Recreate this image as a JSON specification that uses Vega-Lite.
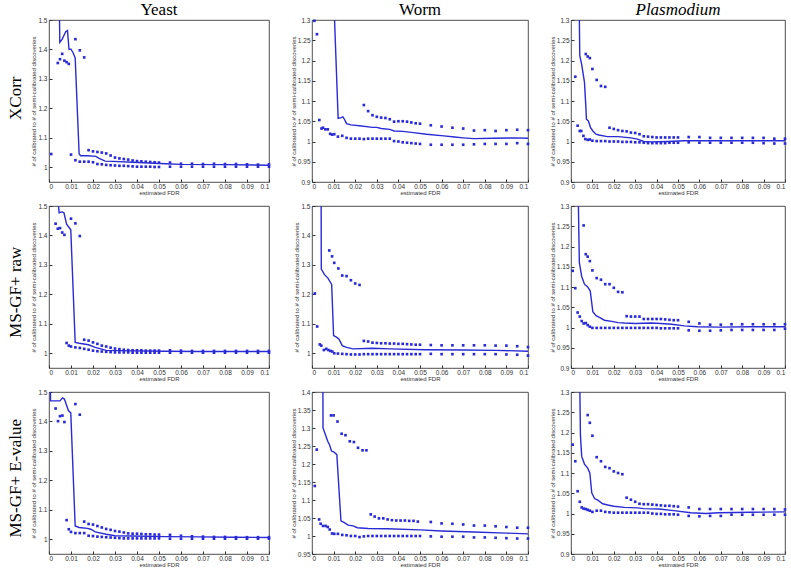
{
"$schema": "https://vega.github.io/schema/vega-lite/v6.json",
"padding": {"left": 6, "top": 0, "right": 2, "bottom": 0},
"background": "white",
"config": {
 "view": {"stroke": "#222", "strokeWidth": 0.8},
 "title": {"font": "Liberation Serif", "fontSize": 17, "fontWeight": "normal", "color": "black", "offset": -2},
 "axis": {"grid": false, "domain": false, "tickColor": "#333", "tickSize": -3, "labelFont": "Liberation Sans", "labelFontSize": 6.5, "labelColor": "#333", "titleFont": "Liberation Sans", "titleFontSize": 6, "titleFontWeight": "normal", "titleColor": "#333", "titlePadding": 0},
 "axisX": {"labelPadding": 4},
 "axisY": {"labelPadding": 5, "titlePadding": 1},
 "line": {"color": "#2a2ad6", "strokeWidth": 1.4},
 "point": {"color": "#2a2ad6"}
},
"datasets": {
 "yx": [
  {"s":"d","x":0.001,"y":1.045},{"s":"d","x":0.004,"y":1.354},{"s":"d","x":0.005,"y":1.367},{"s":"d","x":0.006,"y":1.385},{"s":"d","x":0.007,"y":1.362},{"s":"d","x":0.008,"y":1.357},{"s":"d","x":0.009,"y":1.351},{"s":"d","x":0.010,"y":1.043},{"s":"d","x":0.012,"y":1.435},{"s":"d","x":0.014,"y":1.397},{"s":"d","x":0.016,"y":1.373},{"s":"d","x":0.012,"y":1.024},{"s":"d","x":0.014,"y":1.019},{"s":"d","x":0.016,"y":1.019},
  {"s":"d","x":0.018,"y":1.058},{"s":"d","x":0.020,"y":1.054},{"s":"d","x":0.022,"y":1.052},{"s":"d","x":0.024,"y":1.05},{"s":"d","x":0.026,"y":1.047},{"s":"d","x":0.028,"y":1.04},{"s":"d","x":0.030,"y":1.033},{"s":"d","x":0.032,"y":1.03},{"s":"d","x":0.034,"y":1.028},{"s":"d","x":0.036,"y":1.026},{"s":"d","x":0.038,"y":1.023},{"s":"d","x":0.040,"y":1.021},{"s":"d","x":0.042,"y":1.02},{"s":"d","x":0.044,"y":1.019},{"s":"d","x":0.046,"y":1.018},{"s":"d","x":0.048,"y":1.017},{"s":"d","x":0.050,"y":1.016},
  {"s":"d","x":0.018,"y":1.019},{"s":"d","x":0.020,"y":1.017},{"s":"d","x":0.022,"y":1.011},{"s":"d","x":0.024,"y":1.01},{"s":"d","x":0.026,"y":1.008},{"s":"d","x":0.028,"y":1.007},{"s":"d","x":0.030,"y":1.006},{"s":"d","x":0.032,"y":1.005},{"s":"d","x":0.034,"y":1.005},{"s":"d","x":0.036,"y":1.004},{"s":"d","x":0.038,"y":1.003},{"s":"d","x":0.040,"y":1.002},{"s":"d","x":0.042,"y":1.002},{"s":"d","x":0.044,"y":1.002},{"s":"d","x":0.046,"y":1.002},{"s":"d","x":0.048,"y":1.001},{"s":"d","x":0.050,"y":1.001},
  {"s":"d","x":0.055,"y":1.016},{"s":"d","x":0.06,"y":1.012},{"s":"d","x":0.065,"y":1.012},{"s":"d","x":0.07,"y":1.011},{"s":"d","x":0.075,"y":1.012},{"s":"d","x":0.08,"y":1.011},{"s":"d","x":0.085,"y":1.011},{"s":"d","x":0.09,"y":1.01},{"s":"d","x":0.095,"y":1.009},{"s":"d","x":0.1,"y":1.01},
  {"s":"d","x":0.055,"y":1.002},{"s":"d","x":0.06,"y":1.002},{"s":"d","x":0.065,"y":1.002},{"s":"d","x":0.07,"y":1.002},{"s":"d","x":0.075,"y":1.002},{"s":"d","x":0.08,"y":1.002},{"s":"d","x":0.085,"y":1.002},{"s":"d","x":0.09,"y":1.002},{"s":"d","x":0.095,"y":1.002},{"s":"d","x":0.1,"y":1.002},
  {"s":"l","x":0.0045,"y":1.7},{"s":"l","x":0.0049,"y":1.424},{"s":"l","x":0.006,"y":1.435},{"s":"l","x":0.0076,"y":1.46},{"s":"l","x":0.0084,"y":1.464},{"s":"l","x":0.0091,"y":1.4},{"s":"l","x":0.01,"y":1.401},{"s":"l","x":0.011,"y":1.388},{"s":"l","x":0.0119,"y":1.371},{"s":"l","x":0.0137,"y":1.045},{"s":"l","x":0.0144,"y":1.039},{"s":"l","x":0.0175,"y":1.039},{"s":"l","x":0.0213,"y":1.037},{"s":"l","x":0.0228,"y":1.03},{"s":"l","x":0.0255,"y":1.021},{"s":"l","x":0.029,"y":1.02},{"s":"l","x":0.038,"y":1.017},{"s":"l","x":0.053,"y":1.012},{"s":"l","x":0.06,"y":1.01},{"s":"l","x":0.08,"y":1.009},{"s":"l","x":0.1,"y":1.007}
 ],
 "wx": [
  {"s":"d","x":0.0011,"y":1.298},{"s":"d","x":0.0023,"y":1.265},{"s":"d","x":0.0034,"y":1.053},{"s":"d","x":0.0044,"y":1.032},{"s":"d","x":0.0051,"y":1.034},{"s":"d","x":0.0062,"y":1.03},{"s":"d","x":0.0073,"y":1.03},{"s":"d","x":0.0084,"y":1.019},{"s":"d","x":0.0093,"y":1.017},{"s":"d","x":0.0103,"y":1.018},{"s":"d","x":0.012,"y":1.012},{"s":"d","x":0.014,"y":1.014},{"s":"d","x":0.016,"y":1.009},{"s":"d","x":0.018,"y":1.007},{"s":"d","x":0.02,"y":1.007},{"s":"d","x":0.022,"y":1.007},{"s":"d","x":0.024,"y":1.006},{"s":"d","x":0.026,"y":1.007},{"s":"d","x":0.028,"y":1.007},{"s":"d","x":0.03,"y":1.007},{"s":"d","x":0.032,"y":1.007},{"s":"d","x":0.034,"y":1.007},{"s":"d","x":0.036,"y":1.007},
  {"s":"d","x":0.024,"y":1.09},{"s":"d","x":0.026,"y":1.075},{"s":"d","x":0.028,"y":1.065},{"s":"d","x":0.03,"y":1.061},{"s":"d","x":0.032,"y":1.059},{"s":"d","x":0.034,"y":1.058},{"s":"d","x":0.036,"y":1.055},{"s":"d","x":0.038,"y":1.049},{"s":"d","x":0.04,"y":1.05},{"s":"d","x":0.042,"y":1.05},{"s":"d","x":0.044,"y":1.049},{"s":"d","x":0.046,"y":1.047},{"s":"d","x":0.048,"y":1.045},{"s":"d","x":0.05,"y":1.044},{"s":"d","x":0.055,"y":1.04},{"s":"d","x":0.06,"y":1.037},{"s":"d","x":0.065,"y":1.034},{"s":"d","x":0.07,"y":1.032},{"s":"d","x":0.075,"y":1.027},{"s":"d","x":0.08,"y":1.028},{"s":"d","x":0.085,"y":1.026},{"s":"d","x":0.09,"y":1.028},{"s":"d","x":0.095,"y":1.029},{"s":"d","x":0.1,"y":1.028},
  {"s":"d","x":0.038,"y":1.001},{"s":"d","x":0.04,"y":1.0},{"s":"d","x":0.042,"y":0.998},{"s":"d","x":0.044,"y":0.997},{"s":"d","x":0.046,"y":0.996},{"s":"d","x":0.048,"y":0.995},{"s":"d","x":0.05,"y":0.994},{"s":"d","x":0.055,"y":0.992},{"s":"d","x":0.06,"y":0.992},{"s":"d","x":0.065,"y":0.992},{"s":"d","x":0.07,"y":0.992},{"s":"d","x":0.075,"y":0.993},{"s":"d","x":0.08,"y":0.994},{"s":"d","x":0.085,"y":0.994},{"s":"d","x":0.09,"y":0.994},{"s":"d","x":0.095,"y":0.996},{"s":"d","x":0.1,"y":0.994},
  {"s":"l","x":0.0101,"y":1.35},{"s":"l","x":0.0121,"y":1.057},{"s":"l","x":0.0135,"y":1.059},{"s":"l","x":0.0143,"y":1.061},{"s":"l","x":0.015,"y":1.055},{"s":"l","x":0.016,"y":1.044},{"s":"l","x":0.018,"y":1.041},{"s":"l","x":0.022,"y":1.039},{"s":"l","x":0.028,"y":1.035},{"s":"l","x":0.03,"y":1.035},{"s":"l","x":0.032,"y":1.032},{"s":"l","x":0.036,"y":1.03},{"s":"l","x":0.038,"y":1.026},{"s":"l","x":0.042,"y":1.025},{"s":"l","x":0.047,"y":1.022},{"s":"l","x":0.053,"y":1.018},{"s":"l","x":0.061,"y":1.014},{"s":"l","x":0.066,"y":1.011},{"s":"l","x":0.07,"y":1.009},{"s":"l","x":0.075,"y":1.007},{"s":"l","x":0.084,"y":1.008},{"s":"l","x":0.094,"y":1.009},{"s":"l","x":0.1,"y":1.008}
 ],
 "px": [
  {"s":"d","x":0.002,"y":1.16},{"s":"d","x":0.0031,"y":1.039},{"s":"d","x":0.0041,"y":1.026},{"s":"d","x":0.0048,"y":1.026},{"s":"d","x":0.0058,"y":1.014},{"s":"d","x":0.0067,"y":1.006},{"s":"d","x":0.0078,"y":1.004},{"s":"d","x":0.0088,"y":1.005},{"s":"d","x":0.0069,"y":1.216},{"s":"d","x":0.0078,"y":1.21},{"s":"d","x":0.0088,"y":1.206},{"s":"d","x":0.01,"y":1.179},{"s":"d","x":0.012,"y":1.152},{"s":"d","x":0.014,"y":1.137},{"s":"d","x":0.016,"y":1.135},
  {"s":"d","x":0.01,"y":1.002},{"s":"d","x":0.012,"y":1.001},{"s":"d","x":0.014,"y":1.001},{"s":"d","x":0.016,"y":1.001},{"s":"d","x":0.018,"y":1.0},{"s":"d","x":0.02,"y":1.0},{"s":"d","x":0.022,"y":1.0},{"s":"d","x":0.024,"y":0.999},{"s":"d","x":0.026,"y":0.999},{"s":"d","x":0.028,"y":0.999},{"s":"d","x":0.03,"y":0.998},{"s":"d","x":0.032,"y":0.998},{"s":"d","x":0.034,"y":0.997},{"s":"d","x":0.036,"y":0.996},{"s":"d","x":0.038,"y":0.996},{"s":"d","x":0.04,"y":0.996},{"s":"d","x":0.042,"y":0.996},{"s":"d","x":0.044,"y":0.996},{"s":"d","x":0.046,"y":0.997},{"s":"d","x":0.048,"y":0.997},{"s":"d","x":0.05,"y":0.997},
  {"s":"d","x":0.055,"y":0.998},{"s":"d","x":0.06,"y":0.997},{"s":"d","x":0.065,"y":0.997},{"s":"d","x":0.07,"y":0.997},{"s":"d","x":0.075,"y":0.997},{"s":"d","x":0.08,"y":0.997},{"s":"d","x":0.085,"y":0.997},{"s":"d","x":0.09,"y":0.996},{"s":"d","x":0.095,"y":0.995},{"s":"d","x":0.1,"y":0.995},
  {"s":"d","x":0.018,"y":1.034},{"s":"d","x":0.02,"y":1.031},{"s":"d","x":0.022,"y":1.028},{"s":"d","x":0.024,"y":1.026},{"s":"d","x":0.026,"y":1.025},{"s":"d","x":0.028,"y":1.022},{"s":"d","x":0.03,"y":1.021},{"s":"d","x":0.032,"y":1.018},{"s":"d","x":0.034,"y":1.013},{"s":"d","x":0.036,"y":1.012},{"s":"d","x":0.038,"y":1.011},{"s":"d","x":0.04,"y":1.01},{"s":"d","x":0.042,"y":1.01},{"s":"d","x":0.044,"y":1.01},{"s":"d","x":0.046,"y":1.01},{"s":"d","x":0.048,"y":1.01},{"s":"d","x":0.05,"y":1.01},
  {"s":"d","x":0.055,"y":1.011},{"s":"d","x":0.06,"y":1.011},{"s":"d","x":0.065,"y":1.009},{"s":"d","x":0.07,"y":1.009},{"s":"d","x":0.075,"y":1.009},{"s":"d","x":0.08,"y":1.009},{"s":"d","x":0.085,"y":1.009},{"s":"d","x":0.09,"y":1.009},{"s":"d","x":0.095,"y":1.007},{"s":"d","x":0.1,"y":1.007},
  {"s":"l","x":0.0037,"y":1.4},{"s":"l","x":0.0041,"y":1.212},{"s":"l","x":0.005,"y":1.19},{"s":"l","x":0.0063,"y":1.146},{"s":"l","x":0.007,"y":1.08},{"s":"l","x":0.0072,"y":1.055},{"s":"l","x":0.0081,"y":1.051},{"s":"l","x":0.0091,"y":1.035},{"s":"l","x":0.0102,"y":1.026},{"s":"l","x":0.0117,"y":1.018},{"s":"l","x":0.013,"y":1.016},{"s":"l","x":0.017,"y":1.012},{"s":"l","x":0.022,"y":1.012},{"s":"l","x":0.028,"y":1.009},{"s":"l","x":0.031,"y":1.006},{"s":"l","x":0.034,"y":1.0},{"s":"l","x":0.0375,"y":0.999},{"s":"l","x":0.045,"y":1.0},{"s":"l","x":0.053,"y":1.002},{"s":"l","x":0.069,"y":1.002},{"s":"l","x":0.084,"y":1.002},{"s":"l","x":0.1,"y":1.002}
 ],
 "yr": [
  {"s":"d","x":0.003,"y":1.44},{"s":"d","x":0.004,"y":1.423},{"s":"d","x":0.005,"y":1.425},{"s":"d","x":0.006,"y":1.41},{"s":"d","x":0.007,"y":1.402},{"s":"d","x":0.01,"y":1.457},{"s":"d","x":0.012,"y":1.441},{"s":"d","x":0.014,"y":1.398},
  {"s":"d","x":0.008,"y":1.035},{"s":"d","x":0.009,"y":1.026},{"s":"d","x":0.01,"y":1.023},{"s":"d","x":0.012,"y":1.02},{"s":"d","x":0.014,"y":1.018},{"s":"d","x":0.016,"y":1.015},{"s":"d","x":0.018,"y":1.012},{"s":"d","x":0.02,"y":1.009},{"s":"d","x":0.022,"y":1.007},{"s":"d","x":0.024,"y":1.006},{"s":"d","x":0.026,"y":1.005},{"s":"d","x":0.028,"y":1.004},{"s":"d","x":0.03,"y":1.003},{"s":"d","x":0.032,"y":1.003},{"s":"d","x":0.034,"y":1.003},{"s":"d","x":0.036,"y":1.003},{"s":"d","x":0.038,"y":1.002},{"s":"d","x":0.04,"y":1.002},{"s":"d","x":0.042,"y":1.002},{"s":"d","x":0.044,"y":1.002},{"s":"d","x":0.046,"y":1.002},{"s":"d","x":0.048,"y":1.002},{"s":"d","x":0.05,"y":1.002},
  {"s":"d","x":0.055,"y":1.002},{"s":"d","x":0.06,"y":1.002},{"s":"d","x":0.065,"y":1.002},{"s":"d","x":0.07,"y":1.002},{"s":"d","x":0.075,"y":1.002},{"s":"d","x":0.08,"y":1.002},{"s":"d","x":0.085,"y":1.002},{"s":"d","x":0.09,"y":1.002},{"s":"d","x":0.095,"y":1.002},{"s":"d","x":0.1,"y":1.002},
  {"s":"d","x":0.016,"y":1.046},{"s":"d","x":0.018,"y":1.043},{"s":"d","x":0.02,"y":1.037},{"s":"d","x":0.022,"y":1.032},{"s":"d","x":0.024,"y":1.026},{"s":"d","x":0.026,"y":1.023},{"s":"d","x":0.028,"y":1.019},{"s":"d","x":0.03,"y":1.016},{"s":"d","x":0.032,"y":1.014},{"s":"d","x":0.034,"y":1.012},{"s":"d","x":0.036,"y":1.011},{"s":"d","x":0.038,"y":1.01},{"s":"d","x":0.04,"y":1.01},{"s":"d","x":0.042,"y":1.01},{"s":"d","x":0.044,"y":1.009},{"s":"d","x":0.046,"y":1.009},{"s":"d","x":0.048,"y":1.009},{"s":"d","x":0.05,"y":1.009},
  {"s":"d","x":0.055,"y":1.01},{"s":"d","x":0.06,"y":1.009},{"s":"d","x":0.065,"y":1.008},{"s":"d","x":0.07,"y":1.008},{"s":"d","x":0.075,"y":1.008},{"s":"d","x":0.08,"y":1.008},{"s":"d","x":0.085,"y":1.008},{"s":"d","x":0.09,"y":1.008},{"s":"d","x":0.095,"y":1.008},{"s":"d","x":0.1,"y":1.008},
  {"s":"l","x":0.0036,"y":1.56},{"s":"l","x":0.0046,"y":1.477},{"s":"l","x":0.006,"y":1.48},{"s":"l","x":0.0068,"y":1.477},{"s":"l","x":0.008,"y":1.438},{"s":"l","x":0.0091,"y":1.427},{"s":"l","x":0.0099,"y":1.419},{"s":"l","x":0.0119,"y":1.037},{"s":"l","x":0.0137,"y":1.034},{"s":"l","x":0.018,"y":1.029},{"s":"l","x":0.021,"y":1.02},{"s":"l","x":0.026,"y":1.01},{"s":"l","x":0.038,"y":1.008},{"s":"l","x":0.053,"y":1.007},{"s":"l","x":0.068,"y":1.006},{"s":"l","x":0.1,"y":1.006}
 ],
 "wr": [
  {"s":"d","x":0.0013,"y":1.203},{"s":"d","x":0.0024,"y":1.091},{"s":"d","x":0.0036,"y":1.03},{"s":"d","x":0.0043,"y":1.026},{"s":"d","x":0.0055,"y":1.011},{"s":"d","x":0.0066,"y":1.015},{"s":"d","x":0.0076,"y":1.011},{"s":"d","x":0.0085,"y":1.008},{"s":"d","x":0.0094,"y":1.006},{"s":"d","x":0.0103,"y":1.0},
  {"s":"d","x":0.012,"y":0.999},{"s":"d","x":0.014,"y":0.998},{"s":"d","x":0.016,"y":0.997},{"s":"d","x":0.018,"y":0.996},{"s":"d","x":0.02,"y":0.996},{"s":"d","x":0.022,"y":0.996},{"s":"d","x":0.024,"y":0.997},{"s":"d","x":0.026,"y":0.997},{"s":"d","x":0.028,"y":0.997},{"s":"d","x":0.03,"y":0.997},{"s":"d","x":0.032,"y":0.997},{"s":"d","x":0.034,"y":0.997},{"s":"d","x":0.036,"y":0.997},{"s":"d","x":0.038,"y":0.997},{"s":"d","x":0.04,"y":0.997},{"s":"d","x":0.042,"y":0.997},{"s":"d","x":0.044,"y":0.997},{"s":"d","x":0.046,"y":0.997},{"s":"d","x":0.048,"y":0.997},{"s":"d","x":0.05,"y":0.997},
  {"s":"d","x":0.055,"y":0.998},{"s":"d","x":0.06,"y":0.997},{"s":"d","x":0.065,"y":0.997},{"s":"d","x":0.07,"y":0.997},{"s":"d","x":0.075,"y":0.997},{"s":"d","x":0.08,"y":0.997},{"s":"d","x":0.085,"y":0.997},{"s":"d","x":0.09,"y":0.996},{"s":"d","x":0.095,"y":0.995},{"s":"d","x":0.1,"y":0.992},
  {"s":"d","x":0.008,"y":1.349},{"s":"d","x":0.0093,"y":1.329},{"s":"d","x":0.0103,"y":1.307},{"s":"d","x":0.0122,"y":1.288},{"s":"d","x":0.014,"y":1.264},{"s":"d","x":0.016,"y":1.262},{"s":"d","x":0.018,"y":1.248},{"s":"d","x":0.02,"y":1.237},{"s":"d","x":0.022,"y":1.232},
  {"s":"d","x":0.024,"y":1.042},{"s":"d","x":0.026,"y":1.04},{"s":"d","x":0.028,"y":1.036},{"s":"d","x":0.03,"y":1.035},{"s":"d","x":0.032,"y":1.034},{"s":"d","x":0.034,"y":1.034},{"s":"d","x":0.036,"y":1.033},{"s":"d","x":0.038,"y":1.033},{"s":"d","x":0.04,"y":1.032},{"s":"d","x":0.042,"y":1.032},{"s":"d","x":0.044,"y":1.031},{"s":"d","x":0.046,"y":1.03},{"s":"d","x":0.048,"y":1.029},{"s":"d","x":0.05,"y":1.029},{"s":"d","x":0.055,"y":1.028},{"s":"d","x":0.06,"y":1.027},{"s":"d","x":0.065,"y":1.027},{"s":"d","x":0.07,"y":1.027},{"s":"d","x":0.075,"y":1.027},{"s":"d","x":0.08,"y":1.027},{"s":"d","x":0.085,"y":1.026},{"s":"d","x":0.09,"y":1.026},{"s":"d","x":0.095,"y":1.024},{"s":"d","x":0.1,"y":1.021},
  {"s":"l","x":0.0042,"y":1.6},{"s":"l","x":0.0043,"y":1.286},{"s":"l","x":0.0058,"y":1.267},{"s":"l","x":0.0073,"y":1.256},{"s":"l","x":0.0091,"y":1.234},{"s":"l","x":0.01,"y":1.06},{"s":"l","x":0.0115,"y":1.054},{"s":"l","x":0.0125,"y":1.048},{"s":"l","x":0.014,"y":1.026},{"s":"l","x":0.016,"y":1.02},{"s":"l","x":0.019,"y":1.015},{"s":"l","x":0.028,"y":1.017},{"s":"l","x":0.036,"y":1.015},{"s":"l","x":0.052,"y":1.012},{"s":"l","x":0.07,"y":1.011},{"s":"l","x":0.085,"y":1.01},{"s":"l","x":0.1,"y":1.007}
 ],
 "pr": [
  {"s":"d","x":0.0008,"y":1.14},{"s":"d","x":0.002,"y":1.097},{"s":"d","x":0.0031,"y":1.037},{"s":"d","x":0.0041,"y":1.027},{"s":"d","x":0.005,"y":1.016},{"s":"d","x":0.0059,"y":1.01},{"s":"d","x":0.0069,"y":1.011},{"s":"d","x":0.0078,"y":1.006},{"s":"d","x":0.0088,"y":1.002},
  {"s":"d","x":0.01,"y":0.999},{"s":"d","x":0.012,"y":0.999},{"s":"d","x":0.014,"y":0.999},{"s":"d","x":0.016,"y":0.999},{"s":"d","x":0.018,"y":0.999},{"s":"d","x":0.02,"y":0.999},{"s":"d","x":0.022,"y":0.999},{"s":"d","x":0.024,"y":0.999},{"s":"d","x":0.026,"y":0.999},{"s":"d","x":0.028,"y":0.999},{"s":"d","x":0.03,"y":0.999},{"s":"d","x":0.032,"y":0.999},{"s":"d","x":0.034,"y":0.999},{"s":"d","x":0.036,"y":0.999},{"s":"d","x":0.038,"y":0.999},{"s":"d","x":0.04,"y":0.999},{"s":"d","x":0.042,"y":0.998},{"s":"d","x":0.044,"y":0.998},{"s":"d","x":0.046,"y":0.998},{"s":"d","x":0.048,"y":0.998},{"s":"d","x":0.05,"y":0.998},
  {"s":"d","x":0.055,"y":0.993},{"s":"d","x":0.06,"y":0.992},{"s":"d","x":0.065,"y":0.992},{"s":"d","x":0.07,"y":0.993},{"s":"d","x":0.075,"y":0.994},{"s":"d","x":0.08,"y":0.994},{"s":"d","x":0.085,"y":0.994},{"s":"d","x":0.09,"y":0.994},{"s":"d","x":0.095,"y":0.994},{"s":"d","x":0.1,"y":0.997},
  {"s":"d","x":0.0059,"y":1.252},{"s":"d","x":0.0069,"y":1.181},{"s":"d","x":0.0078,"y":1.175},{"s":"d","x":0.0088,"y":1.164},{"s":"d","x":0.01,"y":1.141},{"s":"d","x":0.012,"y":1.122},{"s":"d","x":0.014,"y":1.118},{"s":"d","x":0.016,"y":1.107},{"s":"d","x":0.018,"y":1.107},{"s":"d","x":0.02,"y":1.098},{"s":"d","x":0.022,"y":1.088},{"s":"d","x":0.024,"y":1.087},
  {"s":"d","x":0.026,"y":1.028},{"s":"d","x":0.028,"y":1.027},{"s":"d","x":0.03,"y":1.027},{"s":"d","x":0.032,"y":1.027},{"s":"d","x":0.034,"y":1.021},{"s":"d","x":0.036,"y":1.021},{"s":"d","x":0.038,"y":1.021},{"s":"d","x":0.04,"y":1.021},{"s":"d","x":0.042,"y":1.021},{"s":"d","x":0.044,"y":1.02},{"s":"d","x":0.046,"y":1.019},{"s":"d","x":0.048,"y":1.018},{"s":"d","x":0.05,"y":1.018},{"s":"d","x":0.055,"y":1.014},{"s":"d","x":0.06,"y":1.01},{"s":"d","x":0.065,"y":1.007},{"s":"d","x":0.07,"y":1.007},{"s":"d","x":0.075,"y":1.008},{"s":"d","x":0.08,"y":1.008},{"s":"d","x":0.085,"y":1.008},{"s":"d","x":0.09,"y":1.008},{"s":"d","x":0.095,"y":1.008},{"s":"d","x":0.1,"y":1.008},
  {"s":"l","x":0.003,"y":1.45},{"s":"l","x":0.0039,"y":1.16},{"s":"l","x":0.005,"y":1.126},{"s":"l","x":0.0063,"y":1.107},{"s":"l","x":0.0078,"y":1.1},{"s":"l","x":0.009,"y":1.09},{"s":"l","x":0.0102,"y":1.039},{"s":"l","x":0.0117,"y":1.029},{"s":"l","x":0.0133,"y":1.025},{"s":"l","x":0.0156,"y":1.018},{"s":"l","x":0.019,"y":1.015},{"s":"l","x":0.022,"y":1.012},{"s":"l","x":0.025,"y":1.011},{"s":"l","x":0.03,"y":1.01},{"s":"l","x":0.0375,"y":1.011},{"s":"l","x":0.042,"y":1.01},{"s":"l","x":0.047,"y":1.008},{"s":"l","x":0.053,"y":1.004},{"s":"l","x":0.059,"y":1.002},{"s":"l","x":0.069,"y":1.001},{"s":"l","x":0.084,"y":1.002},{"s":"l","x":0.1,"y":1.002}
 ],
 "ye": [
  {"s":"d","x":0.003,"y":1.444},{"s":"d","x":0.0041,"y":1.401},{"s":"d","x":0.005,"y":1.418},{"s":"d","x":0.0061,"y":1.42},{"s":"d","x":0.007,"y":1.398},{"s":"d","x":0.012,"y":1.459},{"s":"d","x":0.014,"y":1.423},
  {"s":"d","x":0.008,"y":1.065},{"s":"d","x":0.009,"y":1.034},{"s":"d","x":0.01,"y":1.025},{"s":"d","x":0.012,"y":1.021},{"s":"d","x":0.014,"y":1.021},{"s":"d","x":0.016,"y":1.021},
  {"s":"d","x":0.018,"y":1.012},{"s":"d","x":0.02,"y":1.011},{"s":"d","x":0.022,"y":1.009},{"s":"d","x":0.024,"y":1.008},{"s":"d","x":0.026,"y":1.007},{"s":"d","x":0.028,"y":1.006},{"s":"d","x":0.03,"y":1.005},{"s":"d","x":0.032,"y":1.004},{"s":"d","x":0.034,"y":1.003},{"s":"d","x":0.036,"y":1.003},{"s":"d","x":0.038,"y":1.003},{"s":"d","x":0.04,"y":1.003},{"s":"d","x":0.042,"y":1.003},{"s":"d","x":0.044,"y":1.003},{"s":"d","x":0.046,"y":1.003},{"s":"d","x":0.048,"y":1.003},{"s":"d","x":0.05,"y":1.003},
  {"s":"d","x":0.055,"y":1.002},{"s":"d","x":0.06,"y":1.002},{"s":"d","x":0.065,"y":1.002},{"s":"d","x":0.07,"y":1.002},{"s":"d","x":0.075,"y":1.002},{"s":"d","x":0.08,"y":1.002},{"s":"d","x":0.085,"y":1.002},{"s":"d","x":0.09,"y":1.002},{"s":"d","x":0.095,"y":1.002},{"s":"d","x":0.1,"y":1.002},
  {"s":"d","x":0.016,"y":1.06},{"s":"d","x":0.018,"y":1.052},{"s":"d","x":0.02,"y":1.05},{"s":"d","x":0.022,"y":1.045},{"s":"d","x":0.024,"y":1.04},{"s":"d","x":0.026,"y":1.035},{"s":"d","x":0.028,"y":1.032},{"s":"d","x":0.03,"y":1.028},{"s":"d","x":0.032,"y":1.026},{"s":"d","x":0.034,"y":1.023},{"s":"d","x":0.036,"y":1.02},{"s":"d","x":0.038,"y":1.019},{"s":"d","x":0.04,"y":1.019},{"s":"d","x":0.042,"y":1.018},{"s":"d","x":0.044,"y":1.017},{"s":"d","x":0.046,"y":1.017},{"s":"d","x":0.048,"y":1.016},{"s":"d","x":0.05,"y":1.016},
  {"s":"d","x":0.055,"y":1.015},{"s":"d","x":0.06,"y":1.012},{"s":"d","x":0.065,"y":1.01},{"s":"d","x":0.07,"y":1.009},{"s":"d","x":0.075,"y":1.008},{"s":"d","x":0.08,"y":1.008},{"s":"d","x":0.085,"y":1.007},{"s":"d","x":0.09,"y":1.007},{"s":"d","x":0.095,"y":1.007},{"s":"d","x":0.1,"y":1.007},
  {"s":"l","x":0.0005,"y":1.6},{"s":"l","x":0.0007,"y":1.47},{"s":"l","x":0.005,"y":1.47},{"s":"l","x":0.0061,"y":1.48},{"s":"l","x":0.007,"y":1.476},{"s":"l","x":0.0079,"y":1.457},{"s":"l","x":0.0088,"y":1.437},{"s":"l","x":0.0099,"y":1.429},{"s":"l","x":0.0119,"y":1.045},{"s":"l","x":0.0137,"y":1.04},{"s":"l","x":0.0175,"y":1.037},{"s":"l","x":0.019,"y":1.034},{"s":"l","x":0.021,"y":1.025},{"s":"l","x":0.026,"y":1.017},{"s":"l","x":0.03,"y":1.012},{"s":"l","x":0.038,"y":1.011},{"s":"l","x":0.053,"y":1.009},{"s":"l","x":0.068,"y":1.008},{"s":"l","x":0.084,"y":1.007},{"s":"l","x":0.1,"y":1.006}
 ],
 "we": [
  {"s":"d","x":0.0013,"y":1.139},{"s":"d","x":0.0022,"y":1.24},{"s":"d","x":0.0033,"y":1.046},{"s":"d","x":0.004,"y":1.034},{"s":"d","x":0.0051,"y":1.028},{"s":"d","x":0.0063,"y":1.028},{"s":"d","x":0.0073,"y":1.025},{"s":"d","x":0.0082,"y":1.018},{"s":"d","x":0.0093,"y":1.007},{"s":"d","x":0.0103,"y":1.006},
  {"s":"d","x":0.012,"y":1.006},{"s":"d","x":0.014,"y":1.003},{"s":"d","x":0.016,"y":1.002},{"s":"d","x":0.018,"y":1.0},{"s":"d","x":0.02,"y":1.0},{"s":"d","x":0.022,"y":0.997},{"s":"d","x":0.024,"y":0.999},{"s":"d","x":0.026,"y":1.0},{"s":"d","x":0.028,"y":1.0},{"s":"d","x":0.03,"y":1.0},{"s":"d","x":0.032,"y":1.0},{"s":"d","x":0.034,"y":1.0},{"s":"d","x":0.036,"y":1.0},{"s":"d","x":0.038,"y":1.0},{"s":"d","x":0.04,"y":1.0},{"s":"d","x":0.042,"y":1.0},{"s":"d","x":0.044,"y":1.0},{"s":"d","x":0.046,"y":1.0},{"s":"d","x":0.048,"y":1.0},{"s":"d","x":0.05,"y":1.0},
  {"s":"d","x":0.055,"y":0.999},{"s":"d","x":0.06,"y":0.998},{"s":"d","x":0.065,"y":0.998},{"s":"d","x":0.07,"y":0.998},{"s":"d","x":0.075,"y":0.996},{"s":"d","x":0.08,"y":0.996},{"s":"d","x":0.085,"y":0.995},{"s":"d","x":0.09,"y":0.994},{"s":"d","x":0.095,"y":0.993},{"s":"d","x":0.1,"y":0.993},
  {"s":"d","x":0.0088,"y":1.335},{"s":"d","x":0.01,"y":1.335},{"s":"d","x":0.0118,"y":1.318},{"s":"d","x":0.0137,"y":1.284},{"s":"d","x":0.0155,"y":1.28},{"s":"d","x":0.0175,"y":1.263},{"s":"d","x":0.0194,"y":1.261},{"s":"d","x":0.0213,"y":1.245},{"s":"d","x":0.0234,"y":1.238},{"s":"d","x":0.0252,"y":1.238},
  {"s":"d","x":0.0272,"y":1.06},{"s":"d","x":0.029,"y":1.054},{"s":"d","x":0.031,"y":1.049},{"s":"d","x":0.033,"y":1.049},{"s":"d","x":0.035,"y":1.046},{"s":"d","x":0.037,"y":1.044},{"s":"d","x":0.039,"y":1.043},{"s":"d","x":0.041,"y":1.043},{"s":"d","x":0.043,"y":1.043},{"s":"d","x":0.045,"y":1.042},{"s":"d","x":0.047,"y":1.042},{"s":"d","x":0.049,"y":1.04},{"s":"d","x":0.055,"y":1.039},{"s":"d","x":0.06,"y":1.035},{"s":"d","x":0.065,"y":1.034},{"s":"d","x":0.07,"y":1.032},{"s":"d","x":0.075,"y":1.029},{"s":"d","x":0.08,"y":1.029},{"s":"d","x":0.085,"y":1.027},{"s":"d","x":0.09,"y":1.025},{"s":"d","x":0.095,"y":1.023},{"s":"d","x":0.1,"y":1.023},
  {"s":"l","x":0.005,"y":1.5},{"s":"l","x":0.0051,"y":1.3},{"s":"l","x":0.0063,"y":1.28},{"s":"l","x":0.0073,"y":1.263},{"s":"l","x":0.0082,"y":1.252},{"s":"l","x":0.009,"y":1.236},{"s":"l","x":0.01,"y":1.234},{"s":"l","x":0.0115,"y":1.226},{"s":"l","x":0.0134,"y":1.042},{"s":"l","x":0.015,"y":1.037},{"s":"l","x":0.0167,"y":1.03},{"s":"l","x":0.019,"y":1.028},{"s":"l","x":0.021,"y":1.023},{"s":"l","x":0.026,"y":1.021},{"s":"l","x":0.035,"y":1.02},{"s":"l","x":0.05,"y":1.017},{"s":"l","x":0.06,"y":1.014},{"s":"l","x":0.075,"y":1.011},{"s":"l","x":0.09,"y":1.008},{"s":"l","x":0.1,"y":1.006}
 ],
 "pe": [
  {"s":"d","x":0.0008,"y":1.17},{"s":"d","x":0.002,"y":1.129},{"s":"d","x":0.0031,"y":1.055},{"s":"d","x":0.0041,"y":1.029},{"s":"d","x":0.005,"y":1.015},{"s":"d","x":0.0059,"y":1.012},{"s":"d","x":0.0069,"y":1.011},{"s":"d","x":0.0078,"y":1.009},{"s":"d","x":0.0088,"y":1.007},{"s":"d","x":0.01,"y":1.004},
  {"s":"d","x":0.012,"y":1.007},{"s":"d","x":0.014,"y":1.007},{"s":"d","x":0.016,"y":1.004},{"s":"d","x":0.018,"y":1.003},{"s":"d","x":0.02,"y":1.002},{"s":"d","x":0.022,"y":1.002},{"s":"d","x":0.024,"y":1.002},{"s":"d","x":0.026,"y":1.002},{"s":"d","x":0.028,"y":1.002},{"s":"d","x":0.03,"y":1.002},{"s":"d","x":0.032,"y":1.002},{"s":"d","x":0.034,"y":1.002},{"s":"d","x":0.036,"y":1.002},{"s":"d","x":0.038,"y":1.0},{"s":"d","x":0.04,"y":0.999},{"s":"d","x":0.042,"y":0.999},{"s":"d","x":0.044,"y":0.998},{"s":"d","x":0.046,"y":0.998},{"s":"d","x":0.048,"y":0.998},{"s":"d","x":0.05,"y":0.997},
  {"s":"d","x":0.055,"y":0.994},{"s":"d","x":0.06,"y":0.993},{"s":"d","x":0.065,"y":0.994},{"s":"d","x":0.07,"y":0.994},{"s":"d","x":0.075,"y":0.997},{"s":"d","x":0.08,"y":0.997},{"s":"d","x":0.085,"y":0.997},{"s":"d","x":0.09,"y":0.997},{"s":"d","x":0.095,"y":0.997},{"s":"d","x":0.1,"y":0.997},
  {"s":"d","x":0.0078,"y":1.243},{"s":"d","x":0.0088,"y":1.224},{"s":"d","x":0.01,"y":1.192},{"s":"d","x":0.012,"y":1.139},{"s":"d","x":0.014,"y":1.129},{"s":"d","x":0.016,"y":1.115},{"s":"d","x":0.018,"y":1.112},{"s":"d","x":0.02,"y":1.104},{"s":"d","x":0.022,"y":1.1},{"s":"d","x":0.024,"y":1.097},
  {"s":"d","x":0.026,"y":1.039},{"s":"d","x":0.028,"y":1.034},{"s":"d","x":0.03,"y":1.029},{"s":"d","x":0.032,"y":1.024},{"s":"d","x":0.034,"y":1.023},{"s":"d","x":0.036,"y":1.023},{"s":"d","x":0.038,"y":1.022},{"s":"d","x":0.04,"y":1.021},{"s":"d","x":0.042,"y":1.02},{"s":"d","x":0.044,"y":1.019},{"s":"d","x":0.046,"y":1.019},{"s":"d","x":0.048,"y":1.018},{"s":"d","x":0.05,"y":1.017},{"s":"d","x":0.055,"y":1.015},{"s":"d","x":0.06,"y":1.011},{"s":"d","x":0.065,"y":1.011},{"s":"d","x":0.07,"y":1.011},{"s":"d","x":0.075,"y":1.011},{"s":"d","x":0.08,"y":1.011},{"s":"d","x":0.085,"y":1.011},{"s":"d","x":0.09,"y":1.011},{"s":"d","x":0.095,"y":1.011},{"s":"d","x":0.1,"y":1.01},
  {"s":"l","x":0.0038,"y":1.45},{"s":"l","x":0.0044,"y":1.194},{"s":"l","x":0.005,"y":1.141},{"s":"l","x":0.0063,"y":1.122},{"s":"l","x":0.0078,"y":1.112},{"s":"l","x":0.0088,"y":1.1},{"s":"l","x":0.0097,"y":1.051},{"s":"l","x":0.011,"y":1.037},{"s":"l","x":0.0125,"y":1.033},{"s":"l","x":0.0148,"y":1.024},{"s":"l","x":0.0172,"y":1.021},{"s":"l","x":0.02,"y":1.018},{"s":"l","x":0.025,"y":1.015},{"s":"l","x":0.031,"y":1.014},{"s":"l","x":0.034,"y":1.012},{"s":"l","x":0.041,"y":1.011},{"s":"l","x":0.048,"y":1.007},{"s":"l","x":0.056,"y":1.002},{"s":"l","x":0.063,"y":1.0},{"s":"l","x":0.069,"y":1.002},{"s":"l","x":0.084,"y":1.003},{"s":"l","x":0.1,"y":1.004}
 ]
},
"spacing": 6,
"vconcat": [
 {"title": {"text": "XCorr", "orient": "left", "anchor": "middle", "offset": 6, "fontWeight": "normal"}, "spacing": 43, "bounds": "flush", "hconcat": [
  {"width": 220, "height": 162, "title": {"text": "Yeast", "anchor": "middle", "fontWeight": "normal"}, "data": {"name": "yx"},
   "encoding": {"x": {"field": "x", "type": "quantitative", "scale": {"domain": [0, 0.1], "nice": false}, "axis": {"values": [0,0.01,0.02,0.03,0.04,0.05,0.06,0.07,0.08,0.09,0.1], "format": "~g", "title": "estimated FDR"}},
                "y": {"field": "y", "type": "quantitative", "scale": {"domain": [0.95, 1.5], "nice": false, "zero": false}, "axis": {"values": [1,1.1,1.2,1.3,1.4,1.5], "format": "~g", "title": "# of calibrated to # of semi-calibrated discoveries"}}},
   "layer": [
    {"transform": [{"filter": "datum.s == 'd'"}], "mark": {"type": "square", "size": 7, "filled": true, "opacity": 1, "color": "#2a2ad6"}},
    {"transform": [{"filter": "datum.s == 'l'"}], "mark": {"type": "line", "clip": true}},
    {"data": {"values": [{}]}, "mark": {"type": "rule", "color": "black", "strokeWidth": 1}, "encoding": {"x": {"datum": 0}, "x2": {"datum": 0.1}, "y": {"datum": 1}}}
   ]},
  {"width": 216, "height": 162, "title": {"text": "Worm", "anchor": "middle", "fontWeight": "normal"}, "data": {"name": "wx"},
   "encoding": {"x": {"field": "x", "type": "quantitative", "scale": {"domain": [0, 0.1], "nice": false}, "axis": {"values": [0,0.01,0.02,0.03,0.04,0.05,0.06,0.07,0.08,0.09,0.1], "format": "~g", "title": "estimated FDR"}},
                "y": {"field": "y", "type": "quantitative", "scale": {"domain": [0.9, 1.3], "nice": false, "zero": false}, "axis": {"values": [0.9,0.95,1,1.05,1.1,1.15,1.2,1.25,1.3], "format": "~g", "title": "# of calibrated to # of semi-calibrated discoveries"}}},
   "layer": [
    {"transform": [{"filter": "datum.s == 'd'"}], "mark": {"type": "square", "size": 7, "filled": true, "opacity": 1, "color": "#2a2ad6"}},
    {"transform": [{"filter": "datum.s == 'l'"}], "mark": {"type": "line", "clip": true}},
    {"data": {"values": [{}]}, "mark": {"type": "rule", "color": "black", "strokeWidth": 1}, "encoding": {"x": {"datum": 0}, "x2": {"datum": 0.1}, "y": {"datum": 1}}}
   ]},
  {"width": 214, "height": 162, "title": {"text": "Plasmodium", "anchor": "middle", "fontStyle": "italic", "fontWeight": "normal"}, "data": {"name": "px"},
   "encoding": {"x": {"field": "x", "type": "quantitative", "scale": {"domain": [0, 0.1], "nice": false}, "axis": {"values": [0,0.01,0.02,0.03,0.04,0.05,0.06,0.07,0.08,0.09,0.1], "format": "~g", "title": "estimated FDR"}},
                "y": {"field": "y", "type": "quantitative", "scale": {"domain": [0.9, 1.3], "nice": false, "zero": false}, "axis": {"values": [0.9,0.95,1,1.05,1.1,1.15,1.2,1.25,1.3], "format": "~g", "title": "# of calibrated to # of semi-calibrated discoveries"}}},
   "layer": [
    {"transform": [{"filter": "datum.s == 'd'"}], "mark": {"type": "square", "size": 7, "filled": true, "opacity": 1, "color": "#2a2ad6"}},
    {"transform": [{"filter": "datum.s == 'l'"}], "mark": {"type": "line", "clip": true}},
    {"data": {"values": [{}]}, "mark": {"type": "rule", "color": "black", "strokeWidth": 1}, "encoding": {"x": {"datum": 0}, "x2": {"datum": 0.1}, "y": {"datum": 1}}}
   ]}
 ]},
 {"title": {"text": "MS-GF+ raw", "orient": "left", "anchor": "middle", "offset": 6, "fontWeight": "normal"}, "spacing": 43, "bounds": "flush", "hconcat": [
  {"width": 220, "height": 162, "data": {"name": "yr"},
   "encoding": {"x": {"field": "x", "type": "quantitative", "scale": {"domain": [0, 0.1], "nice": false}, "axis": {"values": [0,0.01,0.02,0.03,0.04,0.05,0.06,0.07,0.08,0.09,0.1], "format": "~g", "title": "estimated FDR"}},
                "y": {"field": "y", "type": "quantitative", "scale": {"domain": [0.95, 1.5], "nice": false, "zero": false}, "axis": {"values": [1,1.1,1.2,1.3,1.4,1.5], "format": "~g", "title": "# of calibrated to # of semi-calibrated discoveries"}}},
   "layer": [
    {"transform": [{"filter": "datum.s == 'd'"}], "mark": {"type": "square", "size": 7, "filled": true, "opacity": 1, "color": "#2a2ad6"}},
    {"transform": [{"filter": "datum.s == 'l'"}], "mark": {"type": "line", "clip": true}},
    {"data": {"values": [{}]}, "mark": {"type": "rule", "color": "black", "strokeWidth": 1}, "encoding": {"x": {"datum": 0}, "x2": {"datum": 0.1}, "y": {"datum": 1}}}
   ]},
  {"width": 216, "height": 162, "data": {"name": "wr"},
   "encoding": {"x": {"field": "x", "type": "quantitative", "scale": {"domain": [0, 0.1], "nice": false}, "axis": {"values": [0,0.01,0.02,0.03,0.04,0.05,0.06,0.07,0.08,0.09,0.1], "format": "~g", "title": "estimated FDR"}},
                "y": {"field": "y", "type": "quantitative", "scale": {"domain": [0.95, 1.5], "nice": false, "zero": false}, "axis": {"values": [1,1.1,1.2,1.3,1.4,1.5], "format": "~g", "title": "# of calibrated to # of semi-calibrated discoveries"}}},
   "layer": [
    {"transform": [{"filter": "datum.s == 'd'"}], "mark": {"type": "square", "size": 7, "filled": true, "opacity": 1, "color": "#2a2ad6"}},
    {"transform": [{"filter": "datum.s == 'l'"}], "mark": {"type": "line", "clip": true}},
    {"data": {"values": [{}]}, "mark": {"type": "rule", "color": "black", "strokeWidth": 1}, "encoding": {"x": {"datum": 0}, "x2": {"datum": 0.1}, "y": {"datum": 1}}}
   ]},
  {"width": 214, "height": 162, "data": {"name": "pr"},
   "encoding": {"x": {"field": "x", "type": "quantitative", "scale": {"domain": [0, 0.1], "nice": false}, "axis": {"values": [0,0.01,0.02,0.03,0.04,0.05,0.06,0.07,0.08,0.09,0.1], "format": "~g", "title": "estimated FDR"}},
                "y": {"field": "y", "type": "quantitative", "scale": {"domain": [0.9, 1.3], "nice": false, "zero": false}, "axis": {"values": [0.9,0.95,1,1.05,1.1,1.15,1.2,1.25,1.3], "format": "~g", "title": "# of calibrated to # of semi-calibrated discoveries"}}},
   "layer": [
    {"transform": [{"filter": "datum.s == 'd'"}], "mark": {"type": "square", "size": 7, "filled": true, "opacity": 1, "color": "#2a2ad6"}},
    {"transform": [{"filter": "datum.s == 'l'"}], "mark": {"type": "line", "clip": true}},
    {"data": {"values": [{}]}, "mark": {"type": "rule", "color": "black", "strokeWidth": 1}, "encoding": {"x": {"datum": 0}, "x2": {"datum": 0.1}, "y": {"datum": 1}}}
   ]}
 ]},
 {"title": {"text": "MS-GF+ E-value", "orient": "left", "anchor": "middle", "offset": 6, "fontWeight": "normal"}, "spacing": 43, "bounds": "flush", "hconcat": [
  {"width": 220, "height": 162, "data": {"name": "ye"},
   "encoding": {"x": {"field": "x", "type": "quantitative", "scale": {"domain": [0, 0.1], "nice": false}, "axis": {"values": [0,0.01,0.02,0.03,0.04,0.05,0.06,0.07,0.08,0.09,0.1], "format": "~g", "title": "estimated FDR"}},
                "y": {"field": "y", "type": "quantitative", "scale": {"domain": [0.95, 1.5], "nice": false, "zero": false}, "axis": {"values": [1,1.1,1.2,1.3,1.4,1.5], "format": "~g", "title": "# of calibrated to # of semi-calibrated discoveries"}}},
   "layer": [
    {"transform": [{"filter": "datum.s == 'd'"}], "mark": {"type": "square", "size": 7, "filled": true, "opacity": 1, "color": "#2a2ad6"}},
    {"transform": [{"filter": "datum.s == 'l'"}], "mark": {"type": "line", "clip": true}},
    {"data": {"values": [{}]}, "mark": {"type": "rule", "color": "black", "strokeWidth": 1}, "encoding": {"x": {"datum": 0}, "x2": {"datum": 0.1}, "y": {"datum": 1}}}
   ]},
  {"width": 216, "height": 162, "data": {"name": "we"},
   "encoding": {"x": {"field": "x", "type": "quantitative", "scale": {"domain": [0, 0.1], "nice": false}, "axis": {"values": [0,0.01,0.02,0.03,0.04,0.05,0.06,0.07,0.08,0.09,0.1], "format": "~g", "title": "estimated FDR"}},
                "y": {"field": "y", "type": "quantitative", "scale": {"domain": [0.95, 1.4], "nice": false, "zero": false}, "axis": {"values": [0.95,1,1.05,1.1,1.15,1.2,1.25,1.3,1.35,1.4], "format": "~g", "title": "# of calibrated to # of semi-calibrated discoveries"}}},
   "layer": [
    {"transform": [{"filter": "datum.s == 'd'"}], "mark": {"type": "square", "size": 7, "filled": true, "opacity": 1, "color": "#2a2ad6"}},
    {"transform": [{"filter": "datum.s == 'l'"}], "mark": {"type": "line", "clip": true}},
    {"data": {"values": [{}]}, "mark": {"type": "rule", "color": "black", "strokeWidth": 1}, "encoding": {"x": {"datum": 0}, "x2": {"datum": 0.1}, "y": {"datum": 1}}}
   ]},
  {"width": 214, "height": 162, "data": {"name": "pe"},
   "encoding": {"x": {"field": "x", "type": "quantitative", "scale": {"domain": [0, 0.1], "nice": false}, "axis": {"values": [0,0.01,0.02,0.03,0.04,0.05,0.06,0.07,0.08,0.09,0.1], "format": "~g", "title": "estimated FDR"}},
                "y": {"field": "y", "type": "quantitative", "scale": {"domain": [0.9, 1.3], "nice": false, "zero": false}, "axis": {"values": [0.9,0.95,1,1.05,1.1,1.15,1.2,1.25,1.3], "format": "~g", "title": "# of calibrated to # of semi-calibrated discoveries"}}},
   "layer": [
    {"transform": [{"filter": "datum.s == 'd'"}], "mark": {"type": "square", "size": 7, "filled": true, "opacity": 1, "color": "#2a2ad6"}},
    {"transform": [{"filter": "datum.s == 'l'"}], "mark": {"type": "line", "clip": true}},
    {"data": {"values": [{}]}, "mark": {"type": "rule", "color": "black", "strokeWidth": 1}, "encoding": {"x": {"datum": 0}, "x2": {"datum": 0.1}, "y": {"datum": 1}}}
   ]}
 ]}
]
}
